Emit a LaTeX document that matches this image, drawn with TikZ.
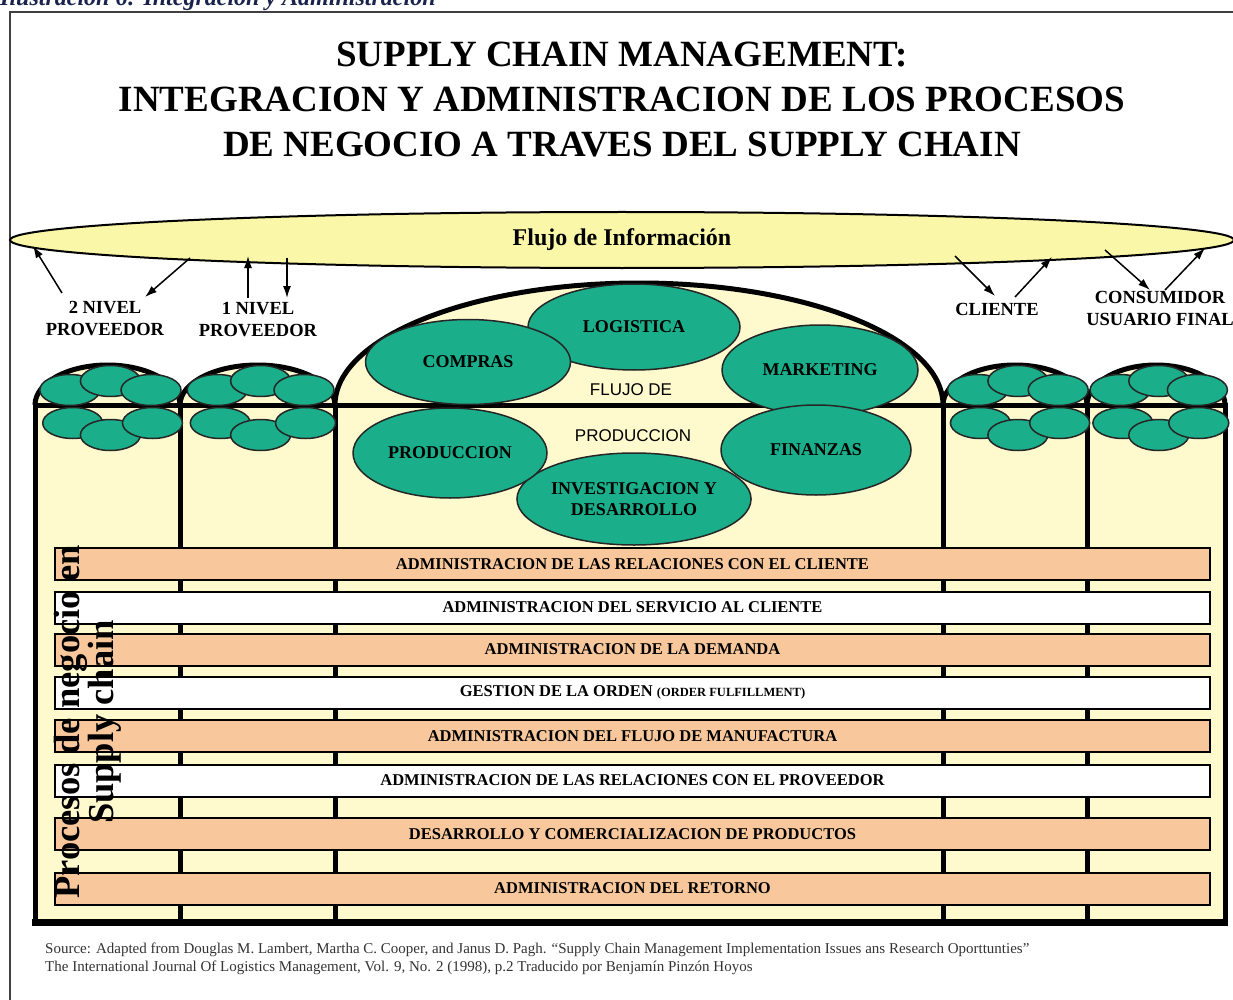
\documentclass[tikz,border=0pt]{standalone}
\usepackage{fontspec}
\setmainfont{Liberation Serif}
\setsansfont{Liberation Sans}
\usepackage{tikz}
\usetikzlibrary{calc}
\usetikzlibrary{arrows.meta}
\usetikzlibrary{shapes.geometric}
\definecolor{cream}{RGB}{255,250,205}
\definecolor{infoyellow}{RGB}{250,248,168}
\definecolor{procgreen}{RGB}{26,174,138}
\definecolor{peach}{RGB}{248,200,156}
\definecolor{navy}{RGB}{25,35,75}
\tikzset{bigoval/.style={ellipse,fill=procgreen,draw=black!85,line width=1.5pt,inner sep=0pt,align=center,font=\fontsize{18}{21}\selectfont\bfseries}}
\tikzset{smalloval/.style={ellipse,fill=procgreen,draw=black!85,line width=1.5pt,minimum width=60pt,minimum height=31pt,inner sep=0pt}}
\tikzset{procbar/.style={rectangle,draw=black,line width=2pt,minimum width=1155pt,minimum height=32pt,inner sep=0pt,font=\fontsize{16.5}{18}\selectfont\bfseries}}
\tikzset{wall/.style={line width=5pt}}
\tikzset{flow/.style={line width=1.5pt,-{Latex[length=12pt,width=8pt]}}}
\tikzset{tier/.style={align=center,inner sep=0pt,font=\fontsize{18.5}{22}\selectfont\bfseries}}
\tikzset{flowtext/.style={inner sep=0pt,font=\fontsize{17}{20}\selectfont\sffamily}}

\begin{document}
\begin{tikzpicture}[x=1pt,y=-1pt]
\useasboundingbox (0,0) rectangle (1233,1000);

\draw[black!75,line width=1.5pt] (10,12) rectangle (1250,1015);
\node[anchor=base west,inner sep=0pt,text=navy,font=\fontsize{24}{28}\selectfont\bfseries\itshape] (cap) at (0,6) {Ilustración 6: Integración y Administración};

\node[align=center,font=\fontsize{37}{45}\selectfont\bfseries] (title) at (622,100)
 {SUPPLY CHAIN MANAGEMENT:\\INTEGRACION Y ADMINISTRACION DE LOS PROCESOS\\DE NEGOCIO A TRAVES DEL SUPPLY CHAIN};

% flujo de informacion
\node[ellipse,draw=black,line width=2pt,fill=infoyellow,minimum width=1224pt,minimum height=56pt,inner sep=0pt,font=\fontsize{24}{28}\selectfont\bfseries] (info) at (622,240) {Flujo de Información};

\node[tier] (tier2) at (105,319) {2 NIVEL\\PROVEEDOR};
\node[tier] (tier1) at (258,320) {1 NIVEL\\PROVEEDOR};
\node[tier] (client) at (997,309) {CLIENTE};
\node[tier] (consumer) at (1160,308) {CONSUMIDOR\\USUARIO FINAL};

\foreach \n/\xa/\ya/\xb/\yb in {a/62/293/33/246, b/190/258/145/297, c/248/298/248/256, d/287/258/287/298,
  e/955/256/995/296, f/1015/297/1052/257, g/1105/250/1150/290, h/1165/290/1205/248}
 {
 \coordinate (t\n) at (\xa,\ya);
 \coordinate (h\n) at (\xb,\yb);
 \draw[flow] (t\n) -- (h\n);
 }

% cuerpo
\fill[cream] (35,405) rectangle (1225,922);
\foreach \l/\r in {35/180, 180/335, 943/1087, 1087/1225}
 {
 \pgfmathsetmacro{\rx}{(\r-\l)/2}
 \draw[wall,fill=cream] (\l,405) arc[start angle=180,end angle=0,x radius=\rx pt,y radius=40pt];
 }
\draw[wall,fill=cream] (335,405) arc[start angle=180,end angle=0,x radius=304pt,y radius=122pt];
\foreach \x in {35,180,335,943,1087,1225}
 \draw[wall] (\x,405) -- (\x,922);
\draw[wall] (32.5,405) -- (1227.5,405);
\draw[line width=7pt] (32,922) -- (1228,922);

\foreach \c/\l/\w in {1/35/145, 2/180/155, 4/943/144, 5/1087/138}
 {
 \foreach \k/\f/\y in {1/0.24/390, 2/0.52/381, 3/0.80/390, 4/0.26/423, 5/0.52/435, 6/0.81/423}
  \node[smalloval] (sm\c-\k) at (\l+\f*\w,\y) {};
 }

\node[bigoval,minimum width=212pt,minimum height=86pt] (logistica) at (634,327) {LOGISTICA};
\node[bigoval,minimum width=205pt,minimum height=85pt] (compras) at (468,362) {COMPRAS};
\node[bigoval,minimum width=196pt,minimum height=90pt] (marketing) at (820,370) {MARKETING};
\node[bigoval,minimum width=212pt,minimum height=92pt] (invest) at (634,499) {INVESTIGACION Y\\DESARROLLO};
\node[bigoval,minimum width=194pt,minimum height=90pt] (produccion) at (450,453) {PRODUCCION};
\node[bigoval,minimum width=190pt,minimum height=90pt] (finanzas) at (816,450) {FINANZAS};
\node[flowtext] (flujo) at (631,390) {FLUJO DE};
\node[flowtext] (prod) at (633,436) {PRODUCCION};

% procesos
\foreach \i/\y/\col/\txt in {1/564/peach/{ADMINISTRACION DE LAS RELACIONES CON EL CLIENTE},
  2/607.5/white/{ADMINISTRACION DEL SERVICIO AL CLIENTE},
  3/649.5/peach/{ADMINISTRACION DE LA DEMANDA},
  4/692.5/white/{GESTION DE LA ORDEN {\fontsize{12.5}{14}\selectfont(ORDER FULFILLMENT)}},
  5/736/peach/{ADMINISTRACION DEL FLUJO DE MANUFACTURA},
  6/780.5/white/{ADMINISTRACION DE LAS RELACIONES CON EL PROVEEDOR},
  7/834/peach/{DESARROLLO Y COMERCIALIZACION DE PRODUCTOS},
  8/888.5/peach/{ADMINISTRACION DEL RETORNO}}
 \node[procbar,fill=\col] (p\i) at (632.5,\y) {\txt};

\node[rotate=90,align=center,inner sep=0pt,font=\fontsize{36.5}{33}\selectfont\bfseries] (side) at (88,722) {Procesos de negocio en\\Supply chain};

\node[anchor=north west,align=left,inner sep=0pt,text=black!80,font=\fontsize{15}{18}\selectfont] (src) at (45,943)
 {Source: Adapted from Douglas M. Lambert, Martha C. Cooper, and Janus D. Pagh. ``Supply Chain Management Implementation Issues ans Research Oporttunties''\\
 The International Journal Of Logistics Management, Vol. 9, No. 2 (1998), p.2 Traducido por Benjamín Pinzón Hoyos};

\end{tikzpicture}
\end{document}
